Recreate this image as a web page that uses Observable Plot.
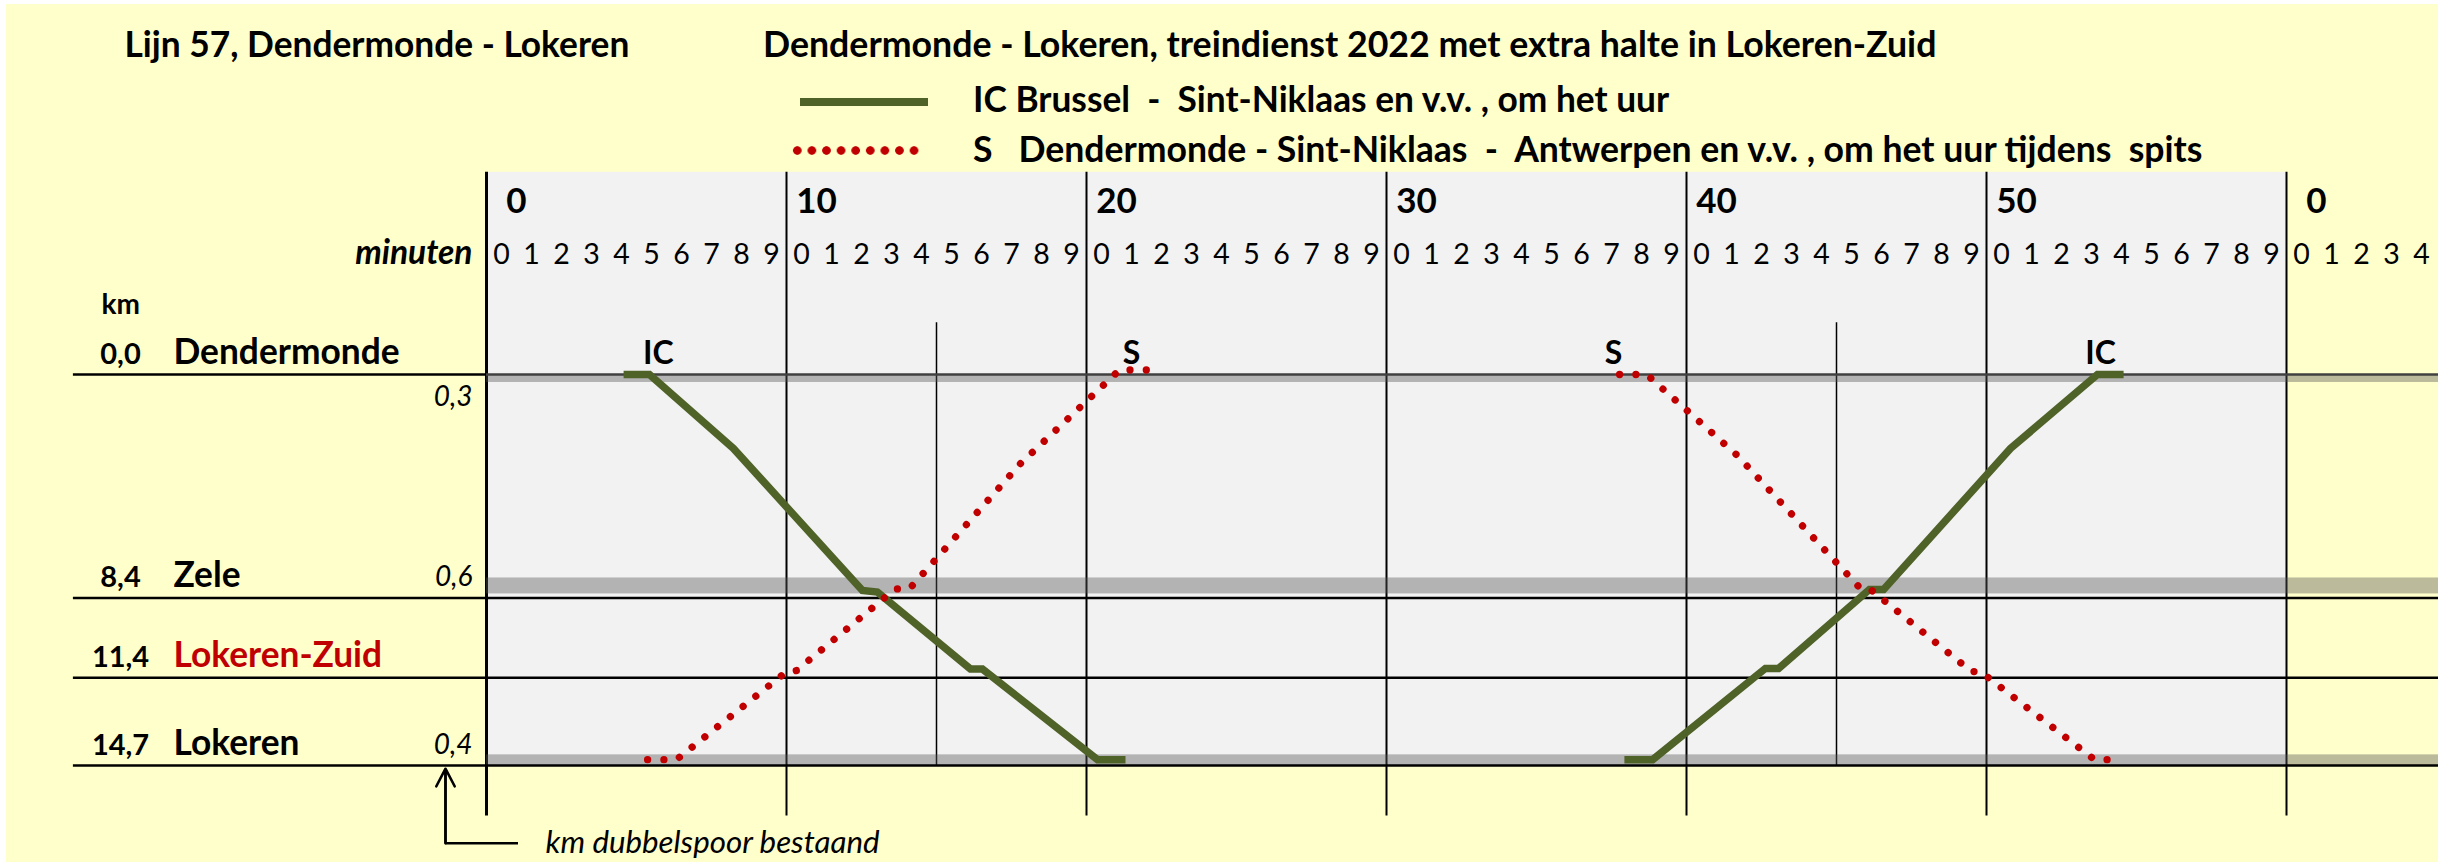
<!DOCTYPE html>
<html>
<head>
<meta charset="utf-8">
<script src="https://cdn.jsdelivr.net/npm/d3@7"></script>
<script src="https://cdn.jsdelivr.net/npm/@observablehq/plot@0.6"></script>
<style>
html, body { margin: 0; padding: 0; background: #fff; overflow: hidden; }
#page { position: relative; width: 2438px; height: 863px; overflow: hidden; font-family: Lato, "Open Sans", sans-serif; }
#bg { position: absolute; left: 6px; top: 4px; width: 2432px; height: 858px; background: #FFFFCC; }
#header { position: absolute; left: 0; top: 0; width: 2438px; height: 172px; }
#chart { position: absolute; left: 0; top: 172px; }
.t { position: absolute; white-space: pre; font-weight: 700; color: #000; line-height: 1.2; }
.sw { position: absolute; }
</style>
</head>
<body>
<div id="page"><div id="bg"></div><div id="header"></div><div id="chart"></div></div>
<script>
// ---------------- data ----------------
const minuteTicks = d3.range(0, 65);                 // minute cells 0..64
const decadeTicks = [0, 10, 20, 30, 40, 50, 60];
const decadeLabels = ["0", "10", "20", "30", "40", "50", "0"];
const quarterLines = [15, 45];

const stationNames = ["Dendermonde", "Zele", "Lokeren-Zuid", "Lokeren"];
const stationKm = [0.0, 8.4, 11.4, 14.7];
const stationKmText = ["0,0", "8,4", "11,4", "14,7"];

const doubleTrackText = ["0,3", "0,6", "0,4"];
const doubleTrackFrom = [0.0, 7.65, 14.3];
const doubleTrackLen = [0.3, 0.6, 0.4];
const doubleTrackLabelKm = [1.2, 7.95, 14.25];

// IC Brussel - Sint-Niklaas
const icSouthMin = [4.57, 5.43, 8.23, 12.53, 13.03, 16.13, 16.53, 20.37, 21.3];
const icSouthKm  = [0.0, 0.0, 2.78, 8.12, 8.18, 11.07, 11.07, 14.48, 14.48];
const icNorthMin = [37.93, 38.87, 42.63, 43.07, 46.1, 46.57, 50.8, 53.7, 54.57];
const icNorthKm  = [14.48, 14.48, 11.05, 11.05, 8.08, 8.08, 2.78, 0.0, 0.0];
// S Dendermonde - Sint-Niklaas - Antwerpen
const sNorthMin = [5.37, 6.33, 9.97, 10.33, 13.63, 14.1, 17.8, 21.1, 22.0];
const sNorthKm  = [14.48, 14.48, 11.2, 11.13, 8.06, 8.06, 3.35, -0.17, -0.17];
const sSouthMin = [37.77, 38.67, 41.7, 45.8, 46.1, 49.5, 49.8, 53.6, 54.53];
const sSouthKm  = [0.0, 0.0, 3.05, 8.05, 8.05, 11.17, 11.17, 14.48, 14.48];

const trainLabelText = ["IC", "S", "S", "IC"];
const trainLabelMin = [5.73, 21.5, 37.57, 53.8];

// ---------------- layout (styles) ----------------
const stationColors = ["#000000", "#000000", "#C00000", "#000000"];
const KM_TOP = -7.6, KM_GRID_BOTTOM = 16.6, KM_QUARTER_TOP = -1.95;
const MIN_LINE_START = -13.77, MIN_RIGHT = 65.07;
const FONT = "Lato, 'Open Sans', sans-serif";

// ---------------- header (title + legend) ----------------
const header = document.getElementById("header");
const headerTexts = [
  {text: "Lijn 57, Dendermonde - Lokeren", left: 124.5, baseline: 56.7, size: 35.3},
  {text: "Dendermonde - Lokeren, treindienst 2022 met extra halte in Lokeren-Zuid", left: 763, baseline: 56.7, size: 35.7},
  {text: "IC Brussel  -  Sint-Niklaas en v.v. , om het uur", left: 973, baseline: 111.7, size: 35.3},
  {text: "S   Dendermonde - Sint-Niklaas  -  Antwerpen en v.v. , om het uur tijdens  spits", left: 973, baseline: 161.7, size: 35.6}
];
for (const h of headerTexts) {
  const el = document.createElement("div");
  el.className = "t";
  el.textContent = h.text;
  el.style.left = h.left + "px";
  el.style.top = "0px";
  el.style.fontSize = h.size + "px";
  header.appendChild(el);
  const probe = document.createElement("span");
  probe.style.cssText = "display:inline-block;width:0;height:0;vertical-align:baseline";
  el.appendChild(probe);
  el.style.top = (h.baseline - probe.offsetTop) + "px";
}
const sw1 = document.createElement("div");
sw1.className = "sw";
sw1.style.cssText += "left:800px;top:97.5px;width:128px;height:8.5px;background:#4F6228;";
header.appendChild(sw1);
const sw2 = document.createElement("div");
sw2.className = "sw";
sw2.style.cssText += "left:789.7px;top:145.5px;width:131.4px;height:9px;background:radial-gradient(circle, #C00000 0, #C00000 3.9px, rgba(192,0,0,0) 4.6px);background-size:14.6px 9px;";
header.appendChild(sw2);

// ---------------- chart ----------------
const stations = stationNames.map((name, i) => ({name, km: stationKm[i], kmText: stationKmText[i], color: stationColors[i]}));
const bands = doubleTrackText.map((t, i) => ({t, y1: doubleTrackFrom[i], y2: doubleTrackFrom[i] + doubleTrackLen[i], labelKm: doubleTrackLabelKm[i]}));
const path = (mins, kms) => mins.map((m, i) => ({min: m, km: kms[i]}));
const trainLabels = trainLabelText.map((t, i) => ({t, min: trainLabelMin[i], km: stationKm[0]}));

const icStyle = {x: "min", y: "km", stroke: "#4F6228", strokeWidth: 7.5, strokeLinecap: "butt", strokeLinejoin: "miter", strokeMiterlimit: 4};
const sStyle = {x: "min", y: "km", stroke: "#C00000", strokeWidth: 7.3, strokeLinecap: "round", strokeLinejoin: "round", strokeDasharray: "0.01 16.3"};

const chart = Plot.plot({
  width: 2438,
  height: 691,
  margin: 0,
  x: {domain: [0, 65], range: [486, 2436], label: null},
  y: {domain: [0, 14.7], range: [202, 593], axis: null, label: null},
  color: {type: "identity"},
  style: {fontFamily: FONT, background: "transparent", overflow: "visible", color: "#000"},
  marks: [
    // plot area
    Plot.rect([0], {x1: 0, x2: 60, y1: KM_TOP, y2: stationKm[3], fill: "#F2F2F2"}),
    // vertical grid
    Plot.ruleX(decadeTicks.filter(d => d !== 0), {y1: KM_TOP, y2: KM_GRID_BOTTOM, stroke: "#000", strokeWidth: 2}),
    Plot.ruleX([0], {y1: KM_TOP, y2: KM_GRID_BOTTOM, stroke: "#000", strokeWidth: 3}),
    Plot.ruleX(quarterLines, {y1: KM_QUARTER_TOP, y2: stationKm[3], stroke: "#000", strokeWidth: 1.5}),
    // double track bands
    Plot.rect(bands, {x1: 0, x2: MIN_RIGHT, y1: "y1", y2: "y2", fill: "#555555", fillOpacity: 0.4}),
    // station lines
    Plot.ruleY(stations, {y: "km", x1: MIN_LINE_START, x2: 0, stroke: "#000", strokeWidth: 2.5}),
    Plot.ruleY(stations.slice(1), {y: "km", x1: 0, x2: MIN_RIGHT, stroke: "#000", strokeWidth: 2.5}),
    Plot.ruleY(stations.slice(0, 1), {y: "km", x1: 0, x2: MIN_RIGHT, stroke: "#404040", strokeWidth: 2.5}),
    // axes (top)
    Plot.axisX(decadeTicks, {anchor: "top", label: null, tickSize: 0, tickPadding: 0,
      tickFormat: d => decadeLabels[decadeTicks.indexOf(d)], dx: 30, dy: 40.7,
      fontSize: 35, fontWeight: "bold", textAnchor: "middle", fill: "#000"}),
    Plot.axisX(minuteTicks.map(m => m + 0.5), {anchor: "top", label: null, tickSize: 0, tickPadding: 0,
      tickFormat: d => String(Math.floor(d) % 10), dy: 91.3, fontSize: 28.5, textAnchor: "middle", fill: "#000"}),
    Plot.text(["minuten"], {text: d => d, frameAnchor: "top-left", dx: 472, dy: 91.3, textAnchor: "end", lineAnchor: "bottom",
      fontSize: 33.5, fontWeight: "bold", fontStyle: "italic", fill: "#000"}),
    // left labels
    Plot.text(["km"], {text: d => d, frameAnchor: "top-left", dx: 101, dy: 141.3, textAnchor: "start", lineAnchor: "bottom",
      fontSize: 28, fontWeight: "bold", fill: "#000"}),
    Plot.text(stations, {y: "km", text: "kmText", frameAnchor: "left", dx: 120, dy: -11, textAnchor: "middle", lineAnchor: "bottom",
      fontSize: 29, fontWeight: "bold", fill: "#000"}),
    Plot.text(stations, {y: "km", text: "name", frameAnchor: "left", dx: 173, dy: -11, textAnchor: "start", lineAnchor: "bottom",
      fontSize: 35.3, fontWeight: "bold", fill: "color"}),
    Plot.text(bands, {y: "labelKm", text: "t", frameAnchor: "left", dx: 472, textAnchor: "end", lineAnchor: "bottom",
      fontSize: 28, fontStyle: "italic", fill: "#000"}),
    // trains
    Plot.line(path(icSouthMin, icSouthKm), icStyle),
    Plot.line(path(icNorthMin, icNorthKm), icStyle),
    Plot.line(path(sNorthMin, sNorthKm), sStyle),
    Plot.line(path(sSouthMin, sSouthKm), sStyle),
    Plot.text(trainLabels, {x: "min", y: "km", text: "t", dy: -11, textAnchor: "middle", lineAnchor: "bottom",
      fontSize: 32, fontWeight: "bold", fill: "#000"}),
    // annotation
    Plot.line([{min: 1.05, km: 17.62}, {min: -1.367, km: 17.62}, {min: -1.367, km: 14.9}],
      {x: "min", y: "km", stroke: "#000", strokeWidth: 2.5, strokeLinejoin: "miter", strokeLinecap: "butt"}),
    Plot.arrow([0], {x1: -1.367, y1: 17.62, x2: -1.367, y2: 14.82, stroke: "#000", strokeWidth: 2.5, headLength: 12, headAngle: 55}),
    Plot.text(["km dubbelspoor bestaand"], {text: d => d, x: 1.97, y: 17.62, textAnchor: "start", lineAnchor: "middle",
      fontSize: 31.3, fontStyle: "italic", fill: "#000"})
  ]
});
document.getElementById("chart").appendChild(chart);
</script>
</body>
</html>
